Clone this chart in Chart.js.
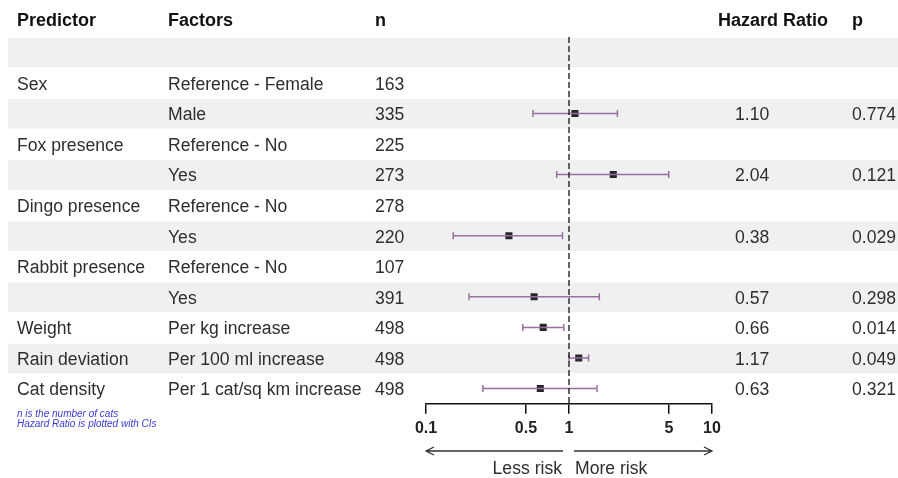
<!DOCTYPE html>
<html>
<head>
<meta charset="utf-8">
<script src="https://cdn.jsdelivr.net/npm/chart.js@4/dist/chart.umd.min.js"></script>
<style>
  body { margin: 0; background: #fff; }
  #wrap { width: 898px; height: 478px; }
</style>
</head>
<body>
<div id="wrap"><canvas id="forestChart" width="898" height="478"></canvas></div>
<script>
// rows of the table, top to bottom (row 0 is the empty shaded row)
const predictors = ['', 'Sex', '', 'Fox presence', '', 'Dingo presence', '', 'Rabbit presence', '', 'Weight', 'Rain deviation', 'Cat density'];
const factors = ['', 'Reference - Female', 'Male', 'Reference - No', 'Yes', 'Reference - No', 'Yes', 'Reference - No', 'Yes', 'Per kg increase', 'Per 100 ml increase', 'Per 1 cat/sq km increase'];
const nCats = [null, 163, 335, 225, 273, 278, 220, 107, 391, 498, 498, 498];
const hazardRatio = [null, null, 1.10, null, 2.04, null, 0.38, null, 0.57, 0.66, 1.17, 0.63];
const ciLow = [null, null, 0.56, null, 0.82, null, 0.155, null, 0.20, 0.475, 1.00, 0.25];
const ciHigh = [null, null, 2.18, null, 4.98, null, 0.90, null, 1.63, 0.92, 1.37, 1.57];
const hrText = ['', '', '1.10', '', '2.04', '', '0.38', '', '0.57', '0.66', '1.17', '0.63'];
const pText = ['', '', '0.774', '', '0.121', '', '0.029', '', '0.298', '0.014', '0.049', '0.321'];
const xTicks = [0.1, 0.5, 1, 5, 10];

const font = '"Liberation Sans", Arial, sans-serif';
const purple = '#9a6e9e';

// build the datasets from the arrays
let ciLines = [];
let ciCaps = [];
let hrPoints = [];
hazardRatio.forEach((hr, i) => {
    if (hr == null) return;
    ciLines.push({ x: ciLow[i], y: i }, { x: ciHigh[i], y: i }, { x: null, y: null });
    ciCaps.push({ x: ciLow[i], y: i }, { x: ciHigh[i], y: i });
    hrPoints.push({ x: hr, y: i });
});

const drawArrow = (ctx, x1, x2, y) => {
    const dir = x2 > x1 ? 1 : -1;
    ctx.beginPath();
    ctx.moveTo(x1, y);
    ctx.lineTo(x2, y);
    ctx.moveTo(x2 - dir * 8, y - 4);
    ctx.lineTo(x2, y);
    ctx.lineTo(x2 - dir * 8, y + 4);
    ctx.stroke();
};

const tablePlugin = {
    id: 'forestTable',
    beforeDraw(chart) {
        const ctx = chart.ctx;
        const y = chart.scales.y;
        ctx.save();
        ctx.fillStyle = '#fff';
        ctx.fillRect(0, 0, chart.width, chart.height);
        ctx.fillStyle = '#eff1f1';
        predictors.forEach((p, i) => {
            if (i % 2 !== 0) return;
            const top = y.getPixelForValue(i - 0.5);
            const bot = y.getPixelForValue(i + 0.5);
            ctx.fillRect(8, top + 1, chart.width - 8, bot - top - 1);
        });
        ctx.restore();
    },
    afterDraw(chart) {
        const ctx = chart.ctx;
        const y = chart.scales.y;
        const x = chart.scales.x;
        ctx.save();
        ctx.textBaseline = 'middle';

        // header
        const hy = y.getPixelForValue(-1) - 1;
        ctx.fillStyle = '#111';
        ctx.font = 'bold 18px ' + font;
        ctx.fillText('Predictor', 17, hy);
        ctx.fillText('Factors', 168, hy);
        ctx.fillText('n', 375, hy);
        ctx.fillText('Hazard Ratio', 718, hy);
        ctx.fillText('p', 852, hy);

        // body rows
        ctx.font = '17.6px ' + font;
        ctx.fillStyle = '#2e2e2e';
        predictors.forEach((p, i) => {
            const ry = y.getPixelForValue(i) + 2;
            ctx.fillText(p, 17, ry);
            ctx.fillText(factors[i], 168, ry);
            if (nCats[i] != null) ctx.fillText(String(nCats[i]), 375, ry);
            ctx.fillText(hrText[i], 735, ry);
            ctx.fillText(pText[i], 852, ry);
        });

        // footnote
        ctx.fillStyle = '#3b3bd6';
        ctx.font = 'italic 10px "Liberation Sans Narrow", "Liberation Sans", Arial, sans-serif';
        ctx.fillText('n is the number of cats', 17, 414);
        ctx.fillText('Hazard Ratio is plotted with CIs', 17, 424);

        // risk arrows
        const one = x.getPixelForValue(1);
        const ay = 451;
        ctx.strokeStyle = '#333';
        ctx.lineWidth = 1.3;
        drawArrow(ctx, one - 6, x.left, ay);
        drawArrow(ctx, one + 5, x.right, ay);
        ctx.fillStyle = '#2e2e2e';
        ctx.font = '17.6px ' + font;
        ctx.textAlign = 'right';
        ctx.fillText('Less risk', one - 7, 469);
        ctx.textAlign = 'left';
        ctx.fillText('More risk', one + 6, 469);
        ctx.restore();
    }
};

new Chart(document.getElementById('forestChart'), {
    type: 'scatter',
    data: {
        datasets: [
            {
                // line of no effect
                data: [{ x: 1, y: -0.5 }, { x: 1, y: 11.5 }],
                showLine: true,
                borderColor: '#111',
                borderWidth: 1.3,
                borderDash: [6, 3],
                pointRadius: 0
            },
            {
                data: ciLines,
                showLine: true,
                spanGaps: false,
                borderColor: purple,
                borderWidth: 1.5,
                pointRadius: 0
            },
            {
                data: ciCaps,
                pointStyle: 'line',
                rotation: 90,
                radius: 3.5,
                borderColor: purple,
                borderWidth: 1.5
            },
            {
                data: hrPoints,
                pointStyle: 'rect',
                radius: 5,
                backgroundColor: '#262626',
                borderColor: '#262626',
                borderWidth: 0
            }
        ]
    },
    options: {
        responsive: false,
        animation: false,
        events: [],
        layout: { padding: { left: 426, right: 186, top: 37, bottom: 35 } },
        plugins: { legend: { display: false }, tooltip: { enabled: false } },
        scales: {
            x: {
                type: 'logarithmic',
                min: 0.1,
                max: 10,
                afterBuildTicks: (scale) => {
                    scale.ticks = xTicks.map(v => ({ value: v }));
                },
                grid: { drawOnChartArea: false, drawTicks: true, tickLength: 10, color: '#111', lineWidth: 1.5 },
                border: { display: true, color: '#111', width: 1.5 },
                ticks: {
                    autoSkip: false,
                    maxRotation: 0,
                    padding: 5,
                    color: '#222',
                    font: { family: font, size: 16, weight: 'bold' },
                    callback: (v) => String(v)
                }
            },
            y: {
                type: 'linear',
                min: -0.5,
                max: 11.5,
                reverse: true,
                display: false
            }
        }
    },
    plugins: [tablePlugin]
});
</script>
</body>
</html>
